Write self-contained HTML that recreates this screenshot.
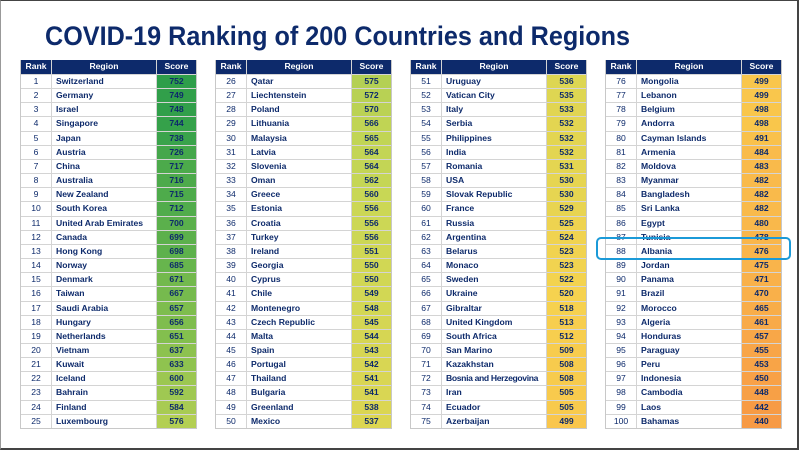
<!DOCTYPE html>
<html><head><meta charset="utf-8"><style>
html,body{margin:0;padding:0;background:#fff}
#wrap{position:relative;width:800px;height:451px;overflow:hidden;background:#fff;font-family:"Liberation Sans",sans-serif}
#frame{position:absolute;left:0;top:0;width:796px;height:447px;border:2px solid #444;border-left:1px solid #999;border-top:1px solid #444}
.t{position:absolute;top:60px;width:175px;border:1px solid #c8c8c8;border-top:none}
.r{display:flex;height:14.16px;border-top:1px solid #d4d4d4;box-sizing:border-box;font-size:8.6px;color:#0d2a6b;line-height:13px}
.r.h{background:#0d2a6b;color:#fff;height:14px;border-top:none;font-weight:bold}
.r div{box-sizing:border-box}
.a{width:31px;text-align:center;border-right:1px solid #d4d4d4}
.b{flex:1;padding-left:4px;font-weight:bold;border-right:1px solid #d4d4d4;white-space:nowrap;overflow:hidden}
.c{width:39px;text-align:center;font-weight:bold}
.h .b{text-align:center;padding:0}
</style></head><body><div id="wrap">
<div id="frame"></div>
<svg style="position:absolute;left:0;top:0" width="800" height="60"><text x="45" y="45" textLength="585" lengthAdjust="spacingAndGlyphs" font-family="Liberation Sans, sans-serif" font-weight="bold" font-size="27" fill="#0d2a6b">COVID-19 Ranking of 200 Countries and Regions</text></svg>

<div class="t" style="left:20px">
<div class="r h"><div class="a">Rank</div><div class="b">Region</div><div class="c">Score</div></div>
<div class="r"><div class="a">1</div><div class="b">Switzerland</div><div class="c">752</div></div>
<div class="r"><div class="a">2</div><div class="b">Germany</div><div class="c">749</div></div>
<div class="r"><div class="a">3</div><div class="b">Israel</div><div class="c">748</div></div>
<div class="r"><div class="a">4</div><div class="b">Singapore</div><div class="c">744</div></div>
<div class="r"><div class="a">5</div><div class="b">Japan</div><div class="c">738</div></div>
<div class="r"><div class="a">6</div><div class="b">Austria</div><div class="c">726</div></div>
<div class="r"><div class="a">7</div><div class="b">China</div><div class="c">717</div></div>
<div class="r"><div class="a">8</div><div class="b">Australia</div><div class="c">716</div></div>
<div class="r"><div class="a">9</div><div class="b">New Zealand</div><div class="c">715</div></div>
<div class="r"><div class="a">10</div><div class="b">South Korea</div><div class="c">712</div></div>
<div class="r"><div class="a">11</div><div class="b">United Arab Emirates</div><div class="c">700</div></div>
<div class="r"><div class="a">12</div><div class="b">Canada</div><div class="c">699</div></div>
<div class="r"><div class="a">13</div><div class="b">Hong Kong</div><div class="c">698</div></div>
<div class="r"><div class="a">14</div><div class="b">Norway</div><div class="c">685</div></div>
<div class="r"><div class="a">15</div><div class="b">Denmark</div><div class="c">671</div></div>
<div class="r"><div class="a">16</div><div class="b">Taiwan</div><div class="c">667</div></div>
<div class="r"><div class="a">17</div><div class="b">Saudi Arabia</div><div class="c">657</div></div>
<div class="r"><div class="a">18</div><div class="b">Hungary</div><div class="c">656</div></div>
<div class="r"><div class="a">19</div><div class="b">Netherlands</div><div class="c">651</div></div>
<div class="r"><div class="a">20</div><div class="b">Vietnam</div><div class="c">637</div></div>
<div class="r"><div class="a">21</div><div class="b">Kuwait</div><div class="c">633</div></div>
<div class="r"><div class="a">22</div><div class="b">Iceland</div><div class="c">600</div></div>
<div class="r"><div class="a">23</div><div class="b">Bahrain</div><div class="c">592</div></div>
<div class="r"><div class="a">24</div><div class="b">Finland</div><div class="c">584</div></div>
<div class="r"><div class="a">25</div><div class="b">Luxembourg</div><div class="c">576</div></div>
</div>

<div class="t" style="left:215px">
<div class="r h"><div class="a">Rank</div><div class="b">Region</div><div class="c">Score</div></div>
<div class="r"><div class="a">26</div><div class="b">Qatar</div><div class="c">575</div></div>
<div class="r"><div class="a">27</div><div class="b">Liechtenstein</div><div class="c">572</div></div>
<div class="r"><div class="a">28</div><div class="b">Poland</div><div class="c">570</div></div>
<div class="r"><div class="a">29</div><div class="b">Lithuania</div><div class="c">566</div></div>
<div class="r"><div class="a">30</div><div class="b">Malaysia</div><div class="c">565</div></div>
<div class="r"><div class="a">31</div><div class="b">Latvia</div><div class="c">564</div></div>
<div class="r"><div class="a">32</div><div class="b">Slovenia</div><div class="c">564</div></div>
<div class="r"><div class="a">33</div><div class="b">Oman</div><div class="c">562</div></div>
<div class="r"><div class="a">34</div><div class="b">Greece</div><div class="c">560</div></div>
<div class="r"><div class="a">35</div><div class="b">Estonia</div><div class="c">556</div></div>
<div class="r"><div class="a">36</div><div class="b">Croatia</div><div class="c">556</div></div>
<div class="r"><div class="a">37</div><div class="b">Turkey</div><div class="c">556</div></div>
<div class="r"><div class="a">38</div><div class="b">Ireland</div><div class="c">551</div></div>
<div class="r"><div class="a">39</div><div class="b">Georgia</div><div class="c">550</div></div>
<div class="r"><div class="a">40</div><div class="b">Cyprus</div><div class="c">550</div></div>
<div class="r"><div class="a">41</div><div class="b">Chile</div><div class="c">549</div></div>
<div class="r"><div class="a">42</div><div class="b">Montenegro</div><div class="c">548</div></div>
<div class="r"><div class="a">43</div><div class="b">Czech Republic</div><div class="c">545</div></div>
<div class="r"><div class="a">44</div><div class="b">Malta</div><div class="c">544</div></div>
<div class="r"><div class="a">45</div><div class="b">Spain</div><div class="c">543</div></div>
<div class="r"><div class="a">46</div><div class="b">Portugal</div><div class="c">542</div></div>
<div class="r"><div class="a">47</div><div class="b">Thailand</div><div class="c">541</div></div>
<div class="r"><div class="a">48</div><div class="b">Bulgaria</div><div class="c">541</div></div>
<div class="r"><div class="a">49</div><div class="b">Greenland</div><div class="c">538</div></div>
<div class="r"><div class="a">50</div><div class="b">Mexico</div><div class="c">537</div></div>
</div>

<div class="t" style="left:410px">
<div class="r h"><div class="a">Rank</div><div class="b">Region</div><div class="c">Score</div></div>
<div class="r"><div class="a">51</div><div class="b">Uruguay</div><div class="c">536</div></div>
<div class="r"><div class="a">52</div><div class="b">Vatican City</div><div class="c">535</div></div>
<div class="r"><div class="a">53</div><div class="b">Italy</div><div class="c">533</div></div>
<div class="r"><div class="a">54</div><div class="b">Serbia</div><div class="c">532</div></div>
<div class="r"><div class="a">55</div><div class="b">Philippines</div><div class="c">532</div></div>
<div class="r"><div class="a">56</div><div class="b">India</div><div class="c">532</div></div>
<div class="r"><div class="a">57</div><div class="b">Romania</div><div class="c">531</div></div>
<div class="r"><div class="a">58</div><div class="b">USA</div><div class="c">530</div></div>
<div class="r"><div class="a">59</div><div class="b">Slovak Republic</div><div class="c">530</div></div>
<div class="r"><div class="a">60</div><div class="b">France</div><div class="c">529</div></div>
<div class="r"><div class="a">61</div><div class="b">Russia</div><div class="c">525</div></div>
<div class="r"><div class="a">62</div><div class="b">Argentina</div><div class="c">524</div></div>
<div class="r"><div class="a">63</div><div class="b">Belarus</div><div class="c">523</div></div>
<div class="r"><div class="a">64</div><div class="b">Monaco</div><div class="c">523</div></div>
<div class="r"><div class="a">65</div><div class="b">Sweden</div><div class="c">522</div></div>
<div class="r"><div class="a">66</div><div class="b">Ukraine</div><div class="c">520</div></div>
<div class="r"><div class="a">67</div><div class="b">Gibraltar</div><div class="c">518</div></div>
<div class="r"><div class="a">68</div><div class="b">United Kingdom</div><div class="c">513</div></div>
<div class="r"><div class="a">69</div><div class="b">South Africa</div><div class="c">512</div></div>
<div class="r"><div class="a">70</div><div class="b">San Marino</div><div class="c">509</div></div>
<div class="r"><div class="a">71</div><div class="b">Kazakhstan</div><div class="c">508</div></div>
<div class="r"><div class="a">72</div><div class="b" style="letter-spacing:-0.35px">Bosnia and Herzegovina</div><div class="c">508</div></div>
<div class="r"><div class="a">73</div><div class="b">Iran</div><div class="c">505</div></div>
<div class="r"><div class="a">74</div><div class="b">Ecuador</div><div class="c">505</div></div>
<div class="r"><div class="a">75</div><div class="b">Azerbaijan</div><div class="c">499</div></div>
</div>

<div class="t" style="left:605px">
<div class="r h"><div class="a">Rank</div><div class="b">Region</div><div class="c">Score</div></div>
<div class="r"><div class="a">76</div><div class="b">Mongolia</div><div class="c">499</div></div>
<div class="r"><div class="a">77</div><div class="b">Lebanon</div><div class="c">499</div></div>
<div class="r"><div class="a">78</div><div class="b">Belgium</div><div class="c">498</div></div>
<div class="r"><div class="a">79</div><div class="b">Andorra</div><div class="c">498</div></div>
<div class="r"><div class="a">80</div><div class="b">Cayman Islands</div><div class="c">491</div></div>
<div class="r"><div class="a">81</div><div class="b">Armenia</div><div class="c">484</div></div>
<div class="r"><div class="a">82</div><div class="b">Moldova</div><div class="c">483</div></div>
<div class="r"><div class="a">83</div><div class="b">Myanmar</div><div class="c">482</div></div>
<div class="r"><div class="a">84</div><div class="b">Bangladesh</div><div class="c">482</div></div>
<div class="r"><div class="a">85</div><div class="b">Sri Lanka</div><div class="c">482</div></div>
<div class="r"><div class="a">86</div><div class="b">Egypt</div><div class="c">480</div></div>
<div class="r"><div class="a">87</div><div class="b">Tunisia</div><div class="c">478</div></div>
<div class="r"><div class="a">88</div><div class="b">Albania</div><div class="c">476</div></div>
<div class="r"><div class="a">89</div><div class="b">Jordan</div><div class="c">475</div></div>
<div class="r"><div class="a">90</div><div class="b">Panama</div><div class="c">471</div></div>
<div class="r"><div class="a">91</div><div class="b">Brazil</div><div class="c">470</div></div>
<div class="r"><div class="a">92</div><div class="b">Morocco</div><div class="c">465</div></div>
<div class="r"><div class="a">93</div><div class="b">Algeria</div><div class="c">461</div></div>
<div class="r"><div class="a">94</div><div class="b">Honduras</div><div class="c">457</div></div>
<div class="r"><div class="a">95</div><div class="b">Paraguay</div><div class="c">455</div></div>
<div class="r"><div class="a">96</div><div class="b">Peru</div><div class="c">453</div></div>
<div class="r"><div class="a">97</div><div class="b">Indonesia</div><div class="c">450</div></div>
<div class="r"><div class="a">98</div><div class="b">Cambodia</div><div class="c">448</div></div>
<div class="r"><div class="a">99</div><div class="b">Laos</div><div class="c">442</div></div>
<div class="r"><div class="a">100</div><div class="b">Bahamas</div><div class="c">440</div></div>
</div>

<div style="position:absolute;left:596px;top:237px;width:191px;height:19px;border:2.5px solid #1b9ad8;border-radius:5px"></div>
</div>
<script>
var stops=[[752,[46,158,74]],[700,[91,176,76]],[640,[140,194,79]],[590,[160,200,82]],[560,[200,215,85]],[535,[222,214,82]],[520,[246,210,79]],[495,[249,196,75]],[475,[249,180,75]],[440,[247,154,69]]];
function col(s){for(var i=0;i<stops.length-1;i++){var a=stops[i],b=stops[i+1];if(s<=a[0]&&s>=b[0]){var t=(a[0]-s)/(a[0]-b[0]);return 'rgb('+[0,1,2].map(function(k){return Math.round(a[1][k]+(b[1][k]-a[1][k])*t)}).join(',')+')';}}return 'rgb(247,154,69)';}
document.querySelectorAll('.r:not(.h) .c').forEach(function(e){e.style.background=col(+e.textContent);});
</script>
</body></html>
